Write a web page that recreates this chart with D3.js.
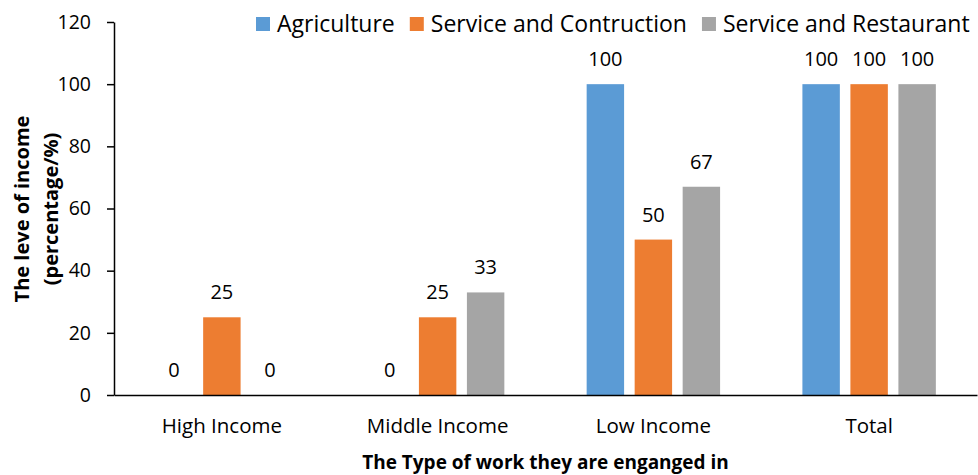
<!DOCTYPE html>
<html>
<head>
<meta charset="utf-8">
<script src="https://cdn.jsdelivr.net/npm/d3@7"></script>
<style>
  html, body { margin: 0; padding: 0; background: #fff; }
  svg { display: block; font-family: "Open Sans", sans-serif; }
</style>
</head>
<body>
<svg id="chart" width="978" height="475"></svg>
<script>
// Income levels by type of work (percent)
const categories = ["High Income", "Middle Income", "Low Income", "Total"];
const seriesNames = ["Agriculture", "Service and Contruction", "Service and Restaurant"];
const agriculture = [0, 0, 100, 100];
const serviceConstruction = [25, 25, 50, 100];
const serviceRestaurant = [0, 33, 67, 100];
const yTicks = [0, 20, 40, 60, 80, 100, 120];
const colors = ["#5B9BD5", "#ED7D31", "#A5A5A5"];

const seriesValues = [agriculture, serviceConstruction, serviceRestaurant];

const svg = d3.select("#chart");
const margin = { left: 114, right: 1, top: 22 };
const W = 978;
const plotBottom = 395;

const x = d3.scaleBand().domain(categories).range([margin.left, W - margin.right]).paddingInner(0).paddingOuter(0);
const groupStep = 48;
const xs = d3.scaleBand().domain(seriesNames)
  .range([-groupStep * (3 - 0.22) / 2, groupStep * (3 - 0.22) / 2])
  .paddingInner(0.22).paddingOuter(0);
const y = d3.scaleLinear().domain([0, 120]).range([plotBottom, margin.top]);

// one row per bar
const rows = [];
categories.forEach((c, i) => {
  seriesNames.forEach((s, j) => {
    rows.push({ cat: c, series: s, value: seriesValues[j][i], color: colors[j] });
  });
});

svg.append("g").selectAll("rect").data(rows).join("rect")
  .attr("x", d => x(d.cat) + x.bandwidth() / 2 + xs(d.series))
  .attr("width", xs.bandwidth())
  .attr("y", d => y(d.value))
  .attr("height", d => y(0) - y(d.value))
  .attr("fill", d => d.color);

// value labels above each bar
svg.append("g").selectAll("text").data(rows).join("text")
  .attr("x", d => x(d.cat) + x.bandwidth() / 2 + xs(d.series) + xs.bandwidth() / 2)
  .attr("y", d => y(d.value) - 18)
  .attr("text-anchor", "middle")
  .attr("font-size", 20)
  .attr("fill", "#000")
  .text(d => d.value);

// y axis
const yAxis = d3.axisLeft(y).tickValues(yTicks).tickSize(7).tickPadding(16).tickSizeOuter(0);
const gy = svg.append("g").attr("transform", `translate(${margin.left},0)`).call(yAxis);
gy.attr("font-family", null);
gy.select(".domain").attr("stroke", "#000").attr("stroke-width", 1.5);
gy.selectAll(".tick line").attr("stroke", "#000").attr("stroke-width", 1.5);
gy.selectAll(".tick text").attr("font-size", 19.5).attr("fill", "#000");

// x axis
const xAxis = d3.axisBottom(x).tickSize(0).tickPadding(23).tickSizeOuter(0);
const gx = svg.append("g").attr("transform", `translate(0,${plotBottom})`).call(xAxis);
gx.attr("font-family", null);
gx.select(".domain").attr("stroke", "#000").attr("stroke-width", 1.5);
gx.selectAll(".tick text").attr("font-size", 20.5).attr("fill", "#000");

// axis titles
svg.append("text")
  .attr("x", (margin.left + W - margin.right) / 2)
  .attr("y", 469)
  .attr("text-anchor", "middle")
  .attr("font-size", 19)
  .attr("font-weight", "bold")
  .attr("fill", "#000")
  .text("The Type of work they are enganged in");

const yTitle = svg.append("text")
  .attr("transform", "translate(0,209) rotate(-90)")
  .attr("text-anchor", "middle")
  .attr("font-size", 20)
  .attr("font-weight", "bold")
  .attr("fill", "#000");
yTitle.append("tspan").attr("x", 0).attr("y", 29).text("The leve of income");
yTitle.append("tspan").attr("x", 0).attr("y", 58).text("(percentage/%)");

// legend
const legend = svg.append("g").attr("transform", "translate(256,0)");
let lx = 0;
seriesNames.forEach((s, j) => {
  const g = legend.append("g").attr("transform", `translate(${lx},0)`);
  g.append("rect").attr("x", 0).attr("y", 17).attr("width", 14).attr("height", 14).attr("fill", colors[j]);
  const t = g.append("text").attr("x", 21).attr("y", 32).attr("font-size", 23).attr("fill", "#000").text(s);
  lx += 21 + t.node().getComputedTextLength() + 15;
});
</script>
</body>
</html>
